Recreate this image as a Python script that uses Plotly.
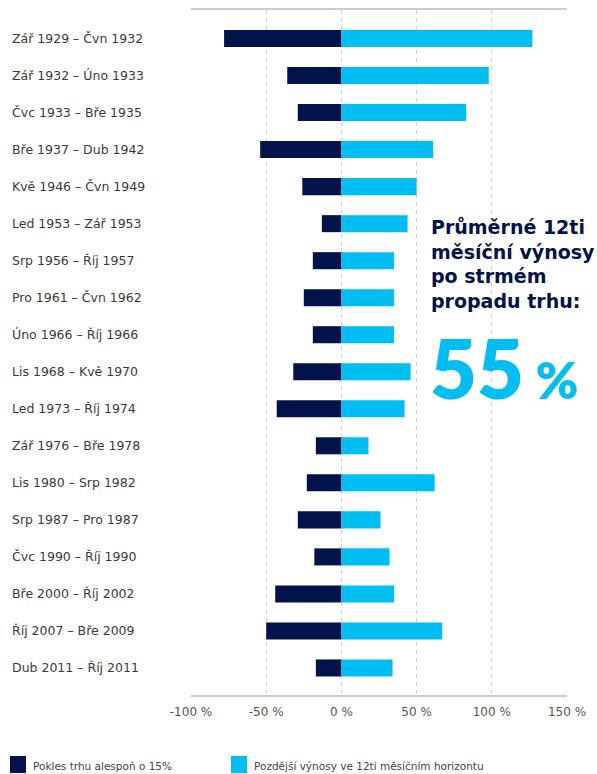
import plotly.graph_objects as go

categories = [
    "Zář 1929 – Čvn 1932", "Zář 1932 – Úno 1933", "Čvc 1933 – Bře 1935",
    "Bře 1937 – Dub 1942", "Kvě 1946 – Čvn 1949", "Led 1953 – Zář 1953",
    "Srp 1956 – Říj 1957", "Pro 1961 – Čvn 1962", "Úno 1966 – Říj 1966",
    "Lis 1968 – Kvě 1970", "Led 1973 – Říj 1974", "Zář 1976 – Bře 1978",
    "Lis 1980 – Srp 1982", "Srp 1987 – Pro 1987", "Čvc 1990 – Říj 1990",
    "Bře 2000 – Říj 2002", "Říj 2007 – Bře 2009", "Dub 2011 – Říj 2011",
]
decline = [-78, -36, -29, -54, -26, -13, -19, -25, -19, -32, -43, -17, -23, -29, -18, -44, -50, -17]
returns = [127, 98, 83, 61, 50, 44, 35, 35, 35, 46, 42, 18, 62, 26, 32, 35, 67, 34]
tick_vals = [-100, -50, 0, 50, 100, 150]
tick_text = ["-100 %", "-50 %", "0 %", "50 %", "100 %", "150 %"]
series_names = ["Pokles trhu alespoň o 15%", "Pozdější výnosy ve 12ti měsíčním horizontu"]
avg_label = "55"

NAVY = "#02124B"
CYAN = "#00BDF2"
FONT = "DejaVu Sans"

PLOT_W = 597 - 191 - 30
PLOT_H = 774 - 10 - 79

fig = go.Figure()
fig.add_trace(go.Bar(y=categories, x=decline, orientation="h", name=series_names[0],
                     marker=dict(color=NAVY, line=dict(width=0)), width=0.46))
fig.add_trace(go.Bar(y=categories, x=returns, orientation="h", name=series_names[1],
                     marker=dict(color=CYAN, line=dict(width=0)), width=0.46))

# left-aligned category labels
for c in categories:
    fig.add_annotation(xref="paper", yref="y", x=-181 / PLOT_W, y=c, text=c, showarrow=False,
                       xanchor="left", yanchor="middle",
                       font=dict(family=FONT, size=12.5, color="#3a3a3a"))

fig.add_annotation(xref="paper", yref="paper", x=(429 - 191) / PLOT_W, y=(695 - 264) / PLOT_H,
                   text="Průměrné 12ti<br>měsíční výnosy<br>po strmém<br>propadu trhu:",
                   showarrow=False, xanchor="left", yanchor="middle", align="left",
                   font=dict(family=FONT, size=19, color=NAVY, weight=700))
fig.add_annotation(xref="paper", yref="paper", x=(428 - 191) / PLOT_W, y=(695 - 367) / PLOT_H,
                   text=avg_label + "<span style='font-size:51px'> %</span>",
                   showarrow=False, xanchor="left", yanchor="middle", align="left",
                   font=dict(family="Lato", size=81, color=CYAN, weight=800))

# legend keys
legend_x = [10, 231]
for name, col, lx in zip(series_names, [NAVY, CYAN], legend_x):
    fig.add_shape(type="rect", xref="paper", yref="paper",
                  x0=(lx - 191) / PLOT_W, x1=(lx + 16 - 191) / PLOT_W,
                  y0=(695 - 773) / PLOT_H, y1=(695 - 756) / PLOT_H,
                  fillcolor=col, line=dict(width=0))
    fig.add_annotation(xref="paper", yref="paper", x=(lx + 21 - 191) / PLOT_W,
                       y=(695 - 766) / PLOT_H, text=name, showarrow=False,
                       xanchor="left", yanchor="middle",
                       font=dict(family=FONT, size=10.5, color="#444"))

fig.update_layout(
    width=597, height=774,
    margin=dict(l=191, r=30, t=10, b=79, autoexpand=False),
    paper_bgcolor="white", plot_bgcolor="white",
    barmode="overlay",
    showlegend=False,
    xaxis=dict(range=[-100, 150], tickvals=tick_vals, ticktext=tick_text,
               showgrid=True, gridcolor="#d0d0d0", griddash="4px,4px", gridwidth=1,
               zeroline=False, showline=True, linecolor="#cccccc", linewidth=1.5,
               mirror=True, ticks="", tickfont=dict(family=FONT, size=12, color="#555"),
               ticklabelstandoff=5),
    yaxis=dict(categoryorder="array", categoryarray=categories,
               range=[17.73, -0.77], showticklabels=False, showgrid=False,
               zeroline=False, showline=False, ticks=""),
    font=dict(family=FONT),
)

fig.write_html("out.html", config={"displayModeBar": False},
               post_script="document.body.style.margin='0';document.body.style.overflow='hidden';")
